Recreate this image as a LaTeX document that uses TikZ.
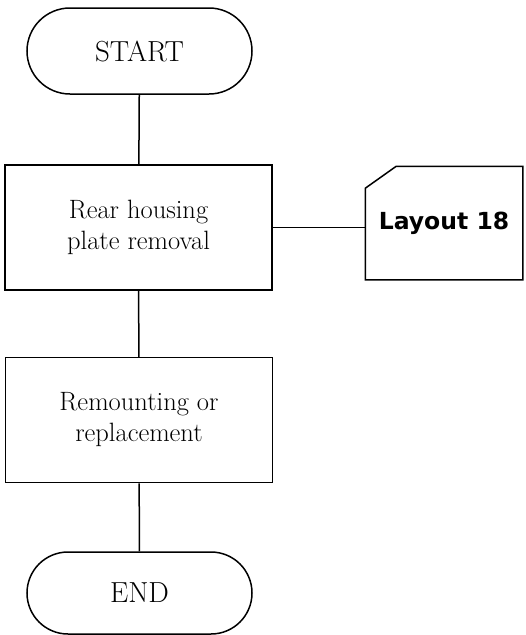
\documentclass[tikz,border=0pt]{standalone}
\usepackage{fontspec}
\newfontfamily\cardfont{DejaVu Sans}
\usepackage{tikz}
\usetikzlibrary{shapes.misc,calc}

\begin{document}
\begin{tikzpicture}[x=1pt, y=-1pt, line width=1.5pt,
    terminal/.style={rounded rectangle, draw, minimum width=225pt, inner sep=0pt, font=\fontsize{29}{32}\selectfont},
    process/.style={rectangle, draw, minimum width=267pt, minimum height=125pt, align=center, font=\fontsize{26.5}{31}\selectfont},
    card/.style={rectangle, minimum width=156pt, minimum height=112pt, font=\cardfont\bfseries\fontsize{23.5}{28}\selectfont}]
    \useasboundingbox (0,0) rectangle (526,635);
    \node[terminal, minimum height=86pt] (start) at (139.5,51) {START};
    \node[process] (removal) at (138.5,227.5) {Rear housing\\plate removal};
    \node[process] (remount) at (139,420) {Remounting or\\replacement};
    \node[terminal, minimum height=82pt] (end) at (139.5,593) {END};
    \node[card] (layout) at (444,223) {Layout 18};
    \draw (layout.south west) -- ($(layout.north west)+(0,22)$) -- ($(layout.north west)+(31,0)$) -- (layout.north east) -- (layout.south east) -- cycle;
    \draw (start) -- (removal);
    \draw (removal) -- (remount);
    \draw (remount) -- (end);
    \draw (removal.east) -- (removal.east -| layout.west);
\end{tikzpicture}
\end{document}
